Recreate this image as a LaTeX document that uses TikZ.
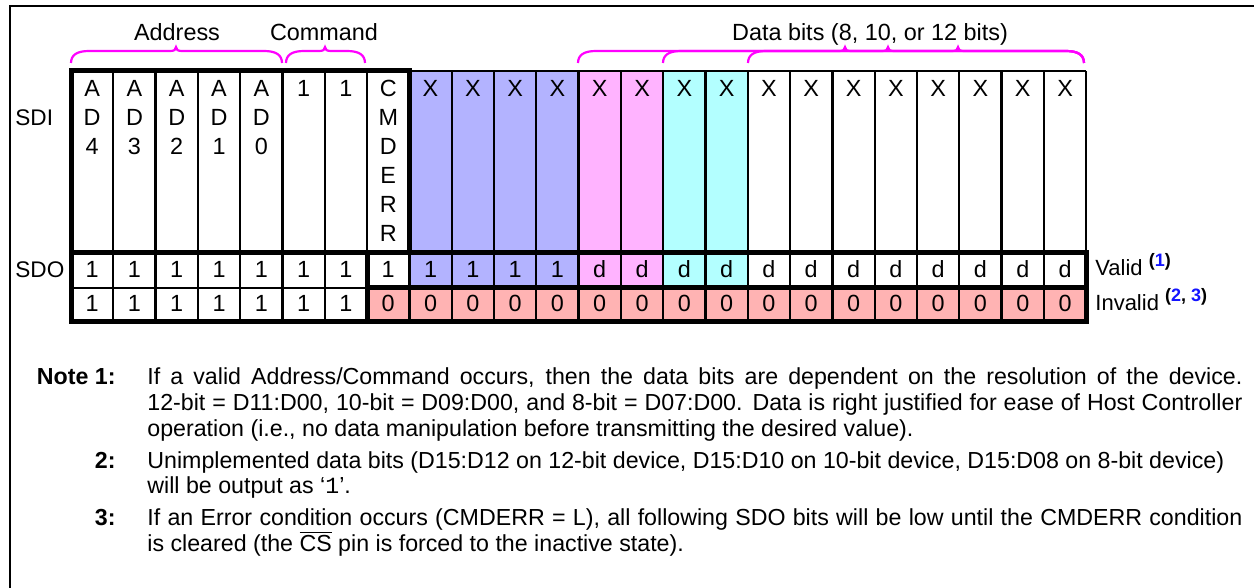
\documentclass[tikz,border=0pt]{standalone}
\usepackage{fontspec}
\setmainfont{Liberation Sans}
\newfontfamily\monofont{Liberation Mono}
\definecolor{bitblue}{HTML}{B3B3FF}
\definecolor{bitpink}{HTML}{FFB3FF}
\definecolor{bitcyan}{HTML}{B3FFFF}
\definecolor{bitred}{HTML}{FFB3B3}
\definecolor{notenum}{HTML}{1414FF}
\definecolor{bracemag}{HTML}{FF00FF}
\tikzset{
  thinrule/.style={line width=1.15pt},
  thickrule/.style={line width=2.5pt},
  bit/.style={font=\fontsize{11.7}{14}\selectfont,inner sep=0pt,anchor=base},
  rowlabel/.style={font=\fontsize{11.3}{14}\selectfont,inner sep=0pt,anchor=base west},
  notehead/.style={font=\fontsize{11.6}{13}\selectfont\bfseries,inner sep=0pt,anchor=base east},
  notetext/.style={font=\fontsize{11.6}{13}\selectfont,inner sep=0pt,anchor=base west,
    text width=547.5pt,align=justify},
  braceline/.style={draw=bracemag,line width=1.1pt},
}
% magenta brace: left end, tip, right end
\newcommand{\bitbrace}[3]{%
  \draw[braceline] (#1,63) .. controls (#1,55) and (#1+6,51) .. (#1+18,51)
    -- (#2-6,51) .. controls (#2-2,51) and (#2,50) .. (#2,47)
    .. controls (#2,50) and (#2+2,51) .. (#2+6,51)
    -- (#3-18,51) .. controls (#3-6,51) and (#3,55) .. (#3,63);}
\newcommand{\supnum}[1]{\raisebox{4.5pt}{\fontsize{9}{9}\selectfont\bfseries #1}}

\begin{document}
\begin{tikzpicture}[x=0.5pt,y=-0.5pt]
\useasboundingbox (0,0) rectangle (1254,588);
% frame
\draw[line width=1pt] (10,588) -- (10,6) -- (1254,6);

%HEADINGS
\node[bit] (address) at (177,41) {Address};
\node[bit] (command) at (324,41) {Command};
\node[bit] (databits) at (870,41) {Data bits (8, 10, or 12 bits)};
\bitbrace{71}{176}{282}
\bitbrace{286}{325}{365}
\bitbrace{578}{845}{1084}
\bitbrace{663}{888}{1084}
\bitbrace{748}{958}{1084}

%FILLS
\foreach \i/\c in {8/bitblue,9/bitblue,10/bitblue,11/bitblue,12/bitpink,13/bitpink,14/bitcyan,15/bitcyan}
  \fill[\c] ({71+42.3*\i},71) rectangle ({71+42.3*(\i+1)},288);
\fill[bitred] ({71+42.3*7},288) rectangle ({71+42.3*24},322);

%GRID
\foreach \i in {1,...,7,9,10,...,24}
  \draw[thinrule] ({71+42.3*\i},71) -- ({71+42.3*\i},253);
\foreach \i in {1,...,6,8,9,...,23}
  \draw[thinrule] ({71+42.3*\i},253) -- ({71+42.3*\i},322);
\draw[thinrule] ({71+42.3*8},71) -- ({71+42.3*24},71);
\draw[thinrule] (71,288) -- ({71+42.3*7},288);
\draw[thickrule] (71,71) rectangle ({71+42.3*8},253);
\draw[thickrule] (71,253) -- ({71+42.3*24},253) -- ({71+42.3*24},322) -- (71,322) -- cycle;
\draw[thickrule] ({71+42.3*7},253) -- ({71+42.3*7},322);
\draw[thickrule] ({71+42.3*7},288) -- ({71+42.3*24},288);

%SDI
\node[rowlabel] (sdi) at (15,125.5) {SDI};
\foreach \i/\txt in {0/{A,D,4},1/{A,D,3},2/{A,D,2},3/{A,D,1},4/{A,D,0},5/{1},6/{1},7/{C,M,D,E,R,R}}
  \foreach \t [count=\j from 0] in \txt
    \node[bit] (sdi-\i-\j) at ({71+42.3*(\i+0.5)},{96.5+29*\j}) {\t};
\foreach \i in {8,...,23}
  \node[bit] (sdi-\i) at ({71+42.3*(\i+0.5)},96.5) {X};

%SDO
\node[rowlabel] (sdo) at (15,278) {SDO};
\foreach \i in {0,...,11}
  \node[bit] (sdo-\i) at ({71+42.3*(\i+0.5)},278) {1};
\foreach \i in {12,...,23}
  \node[bit] (sdo-\i) at ({71+42.3*(\i+0.5)},278) {d};
\foreach \i in {0,...,6}
  \node[bit] (inv-\i) at ({71+42.3*(\i+0.5)},312) {1};
\foreach \i in {7,...,23}
  \node[bit] (inv-\i) at ({71+42.3*(\i+0.5)},312) {0};
\node[rowlabel,font=\fontsize{11}{14}\selectfont] (valid) at (1095,276)
  {Valid \supnum{(\textcolor{notenum}{1})}};
\node[rowlabel,font=\fontsize{11}{14}\selectfont] (invalid) at (1095,311)
  {Invalid \supnum{(\textcolor{notenum}{2}, \textcolor{notenum}{3})}};

%NOTES
\node[notehead] (note1) at (116,385) {Note 1:};
\node[notetext] (note1txt) at (147,385) {If a valid Address/Command occurs, then the data bits are dependent on the resolution of the device.\linebreak
  12-bit = D11:D00, 10-bit = D09:D00, and 8-bit = D07:D00. Data is right justified for ease of Host Controller\linebreak
  operation (i.e., no data manipulation before transmitting the desired value).};
\node[notehead] (note2) at (116,468) {2:};
\node[notetext] (note2txt) at (147,468) {Unimplemented data bits (D15:D12 on 12-bit device, D15:D10 on 10-bit device, D15:D08 on 8-bit device)\newline
  will be output as ‘{\monofont 1}’.};
\node[notehead] (note3) at (116,525) {3:};
\node[notetext] (note3txt) at (147,525) {If an Error condition occurs (CMDERR = L), all following SDO bits will be low until the CMDERR condition\linebreak
  is cleared (the $\overline{\mbox{CS}}$ pin is forced to the inactive state).};
\end{tikzpicture}
\end{document}
